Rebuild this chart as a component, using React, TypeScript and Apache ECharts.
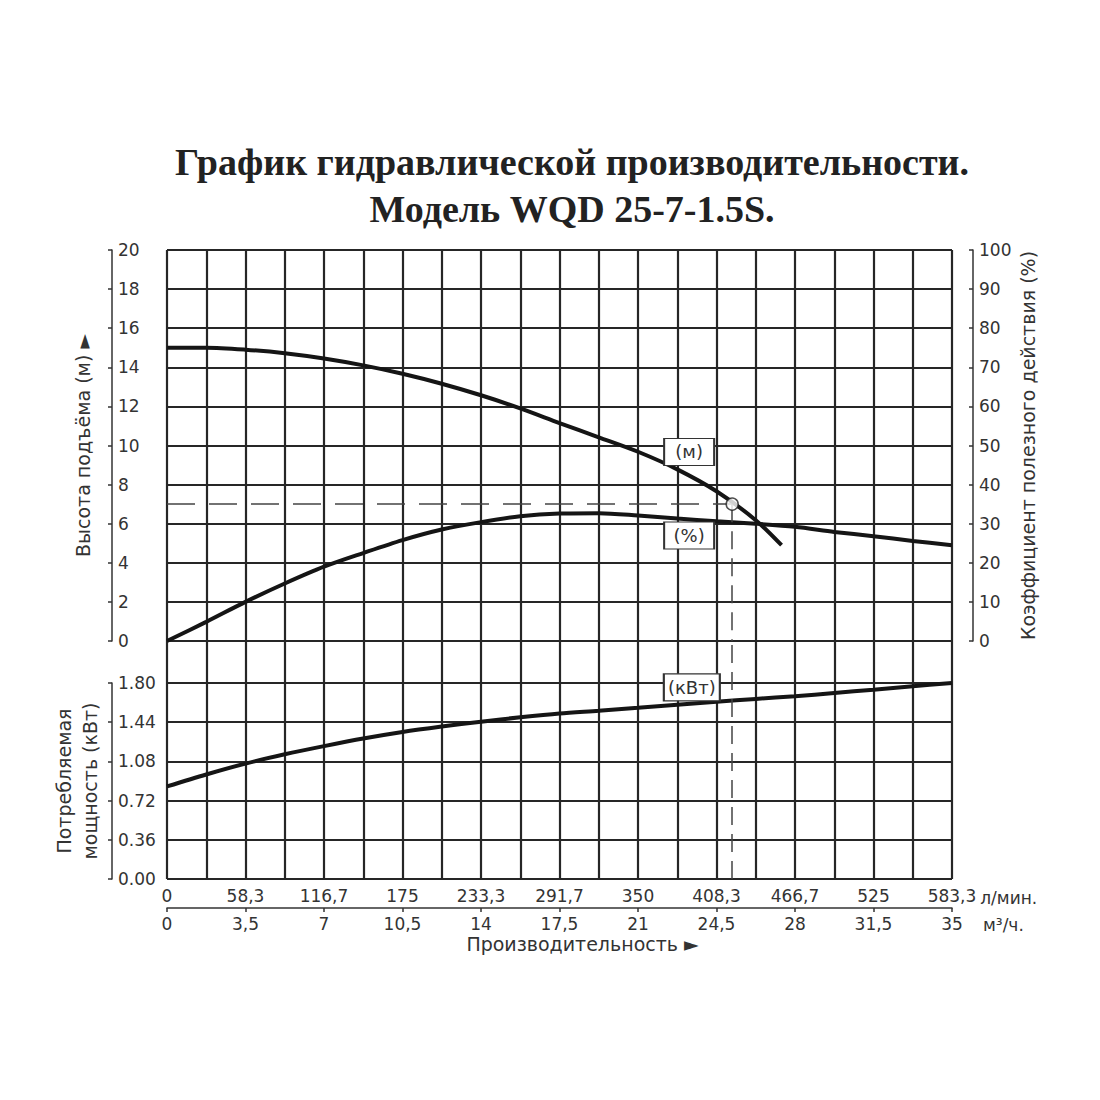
import React, { useEffect, useRef } from 'react';
import * as echarts from 'echarts';

// ---- data ----
const flowM3h = [0, 1.75, 3.5, 5.25, 7, 8.75, 10.5, 12.25, 14, 15.75, 17.5, 19.25, 21, 22.75, 24.5, 26.25, 28, 29.75, 31.5, 33.25, 35];
const headFlow = [0, 1.75, 3.5, 5.25, 7, 8.75, 10.5, 12.25, 14, 15.75, 17.5, 19.25, 21, 22.75, 24.5, 26.25, 27.4];
const headM = [15.0, 15.0, 14.9, 14.72, 14.45, 14.1, 13.67, 13.16, 12.57, 11.9, 11.15, 10.42, 9.68, 8.78, 7.66, 6.18, 4.9];
const efficiencyPct = [0, 4.9, 10.0, 14.7, 19.0, 22.5, 25.8, 28.5, 30.4, 31.9, 32.6, 32.7, 32.1, 31.3, 30.6, 30.0, 29.2, 27.9, 26.8, 25.6, 24.5];
const powerKw = [0.85, 0.96, 1.06, 1.145, 1.22, 1.29, 1.35, 1.4, 1.445, 1.485, 1.52, 1.545, 1.572, 1.6, 1.627, 1.654, 1.678, 1.709, 1.739, 1.77, 1.8];
const dutyPoint = [25.2, 7];

const lpmLabels = ['0', '58,3', '116,7', '175', '233,3', '291,7', '350', '408,3', '466,7', '525', '583,3'];
const m3hLabels = ['0', '3,5', '7', '10,5', '14', '17,5', '21', '24,5', '28', '31,5', '35'];

const titleText = 'График гидравлической производительности.\nМодель WQD 25-7-1.5S.';

// ---- layout ----
const GL = 167;
const GW = 785;
const T0 = 250;
const H0 = 391;
const T1 = T0 + H0; // 641
const BOT = 879;
const H1 = BOT - T1; // 238
const T2 = 683;
const H2 = BOT - T2; // 196
const KW_MAX2 = 1.8;
const KW_MAX1 = (KW_MAX2 * H1) / H2;

const FONT = 'DejaVu Sans';
const TXT = '#333';
const GRIDC = '#262626';
const CURVE = '#151515';

export default function App() {
  const ref = useRef<HTMLDivElement>(null);

  useEffect(() => {
    document.body.style.margin = '0';
    if (!ref.current) return;
    const chart = echarts.init(ref.current, null, { renderer: 'svg' });

    const splitStyle = { show: true, lineStyle: { color: GRIDC, width: 2.2 } };
    const tickFont = { fontFamily: FONT, fontSize: 17, color: TXT };
    const nameFont = { fontFamily: FONT, fontSize: 19, color: TXT };
    const axLine = { show: true, onZero: false, lineStyle: { color: TXT, width: 1.5 } };
    const boxLabel = (text: string, coord: number[], w: number) => ({
      symbol: 'rect',
      symbolSize: [w, 27],
      silent: true,
      itemStyle: { color: '#fff', borderColor: '#333', borderWidth: 1.5 },
      label: { show: true, position: 'inside', formatter: text, color: TXT, fontFamily: FONT, fontSize: 18 },
      data: [{ coord }],
    });

    const option: any = {
      animation: false,
      backgroundColor: '#fff',
      title: {
        text: titleText,
        left: 567,
        top: 133,
        textAlign: 'center',
        textStyle: {
          fontFamily: 'Liberation Serif',
          fontWeight: 'bold',
          fontSize: 38,
          lineHeight: 47,
          color: '#222',
        },
      },
      grid: [
        { left: GL, top: T0, width: GW, height: H0 },
        { left: GL, top: T1, width: GW, height: H1 },
        { left: GL, top: T2, width: GW, height: H2 },
      ],
      xAxis: [
        {
          type: 'value', gridIndex: 0, min: 0, max: 35, interval: 1.75,
          axisLine: { show: false, onZero: false }, axisTick: { show: false }, axisLabel: { show: false },
          splitLine: splitStyle,
        },
        {
          type: 'value', gridIndex: 1, min: 0, max: 35, interval: 1.75,
          axisLine: { show: false, onZero: false }, axisTick: { show: false }, axisLabel: { show: false },
          splitLine: splitStyle,
          name: 'Производительность ►',
          nameLocation: 'middle',
          nameGap: 55,
          nameTextStyle: { ...nameFont, padding: [0, 0, 0, 46] },
        },
        {
          type: 'value', gridIndex: 2, min: 0, max: 35, interval: 3.5, position: 'bottom', offset: 29,
          axisLine: axLine,
          axisTick: { show: true, length: 4, lineStyle: { color: TXT, width: 1.5 } },
          axisLabel: {
            ...tickFont, inside: true, margin: 4, showMinLabel: true, showMaxLabel: true,
            formatter: (v: number) => lpmLabels[Math.round(v / 3.5)] ?? '',
          },
          splitLine: { show: false },
          name: 'л/мин.',
          nameLocation: 'end',
          nameGap: 28,
          nameTextStyle: { ...tickFont, verticalAlign: 'bottom', padding: [0, 0, 2, 0] },
        },
        {
          type: 'value', gridIndex: 2, min: 0, max: 35, interval: 3.5, position: 'bottom', offset: 29,
          axisLine: { show: false, onZero: false }, axisTick: { show: false },
          axisLabel: {
            ...tickFont, margin: 7, showMinLabel: true, showMaxLabel: true,
            formatter: (v: number) => m3hLabels[Math.round(v / 3.5)] ?? '',
          },
          splitLine: { show: false },
          name: 'м³/ч.',
          nameLocation: 'end',
          nameGap: 31,
          nameTextStyle: { ...tickFont, verticalAlign: 'top', padding: [8, 0, 0, 0] },
        },
      ],
      yAxis: [
        {
          type: 'value', gridIndex: 0, position: 'left', offset: 55, min: 0, max: 20, interval: 2,
          axisLine: axLine,
          axisTick: { show: true, inside: false, length: 4, lineStyle: { color: TXT, width: 1.5 } },
          axisLabel: { ...tickFont, inside: true, margin: 6 },
          splitLine: splitStyle,
          name: 'Высота подъёма (м) ►',
          nameLocation: 'middle',
          nameRotate: 90,
          nameGap: 20,
          nameTextStyle: nameFont,
        },
        {
          type: 'value', gridIndex: 0, position: 'right', offset: 21, min: 0, max: 100, interval: 10,
          axisLine: axLine,
          axisTick: { show: true, inside: true, length: 4, lineStyle: { color: TXT, width: 1.5 } },
          axisLabel: { ...tickFont, margin: 6 },
          splitLine: { show: false },
          name: 'Коэффициент полезного действия (%)',
          nameLocation: 'middle',
          nameRotate: 90,
          nameGap: 45,
          nameMoveOverlap: false,
          nameTextStyle: nameFont,
        },
        {
          type: 'value', gridIndex: 1, min: 0, max: KW_MAX1, show: false,
          axisLine: { show: false, onZero: false },
          splitLine: { show: false },
        },
        {
          type: 'value', gridIndex: 2, position: 'left', offset: 55, min: 0, max: KW_MAX2, interval: 0.36,
          axisLine: axLine,
          axisTick: { show: true, inside: false, length: 4, lineStyle: { color: TXT, width: 1.5 } },
          axisLabel: { ...tickFont, inside: true, margin: 6, formatter: (v: number) => v.toFixed(2) },
          splitLine: splitStyle,
          name: 'Потребляемая\nмощность (кВт)',
          nameLocation: 'middle',
          nameRotate: 90,
          nameGap: 9,
          nameTextStyle: { ...nameFont, lineHeight: 26 },
        },
      ],
      series: [
        {
          name: 'head',
          type: 'line',
          xAxisIndex: 0,
          yAxisIndex: 0,
          data: headFlow.map((x, i) => [x, headM[i]]),
          smooth: 0.3,
          symbol: 'none',
          silent: true,
          lineStyle: { color: CURVE, width: 4 },
          z: 3,
          markPoint: boxLabel('(м)', [23.28, 9.67], 50),
        },
        {
          name: 'efficiency',
          type: 'line',
          xAxisIndex: 0,
          yAxisIndex: 1,
          data: flowM3h.map((x, i) => [x, efficiencyPct[i]]),
          smooth: 0.3,
          symbol: 'none',
          silent: true,
          lineStyle: { color: CURVE, width: 4 },
          z: 3,
          markPoint: boxLabel('(%)', [23.28, 27.0], 50),
        },
        {
          name: 'power',
          type: 'line',
          xAxisIndex: 1,
          yAxisIndex: 2,
          data: flowM3h.map((x, i) => [x, powerKw[i]]),
          smooth: 0.3,
          symbol: 'none',
          silent: true,
          lineStyle: { color: CURVE, width: 4 },
          z: 3,
          markPoint: boxLabel('(кВт)', [23.4, 1.76], 56),
          markLine: {
            silent: true,
            symbol: ['none', 'none'],
            label: { show: false },
            lineStyle: { color: '#444', width: 1.5, type: [18, 9] },
            data: [[{ coord: [dutyPoint[0], 0] }, { coord: [dutyPoint[0], KW_MAX1] }]],
          },
        },
        {
          name: 'duty',
          type: 'scatter',
          xAxisIndex: 0,
          yAxisIndex: 0,
          data: [dutyPoint],
          symbol: 'circle',
          symbolSize: 12,
          silent: true,
          itemStyle: { color: '#fff', borderColor: '#222', borderWidth: 1.5 },
          z: 6,
          markLine: {
            silent: true,
            symbol: ['none', 'none'],
            label: { show: false },
            data: [
              [
                { coord: [0, dutyPoint[1]], lineStyle: { color: '#444', width: 1.5, type: [28, 14] } },
                { coord: [dutyPoint[0], dutyPoint[1]] },
              ],
              [
                { coord: [dutyPoint[0], dutyPoint[1]], lineStyle: { color: '#444', width: 1.5, type: [18, 9] } },
                { coord: [dutyPoint[0], 0] },
              ],
            ],
          },
        },
      ],
    };

    chart.setOption(option);
    return () => chart.dispose();
  }, []);

  return <div ref={ref} style={{ width: 1100, height: 1100 }} />;
}
